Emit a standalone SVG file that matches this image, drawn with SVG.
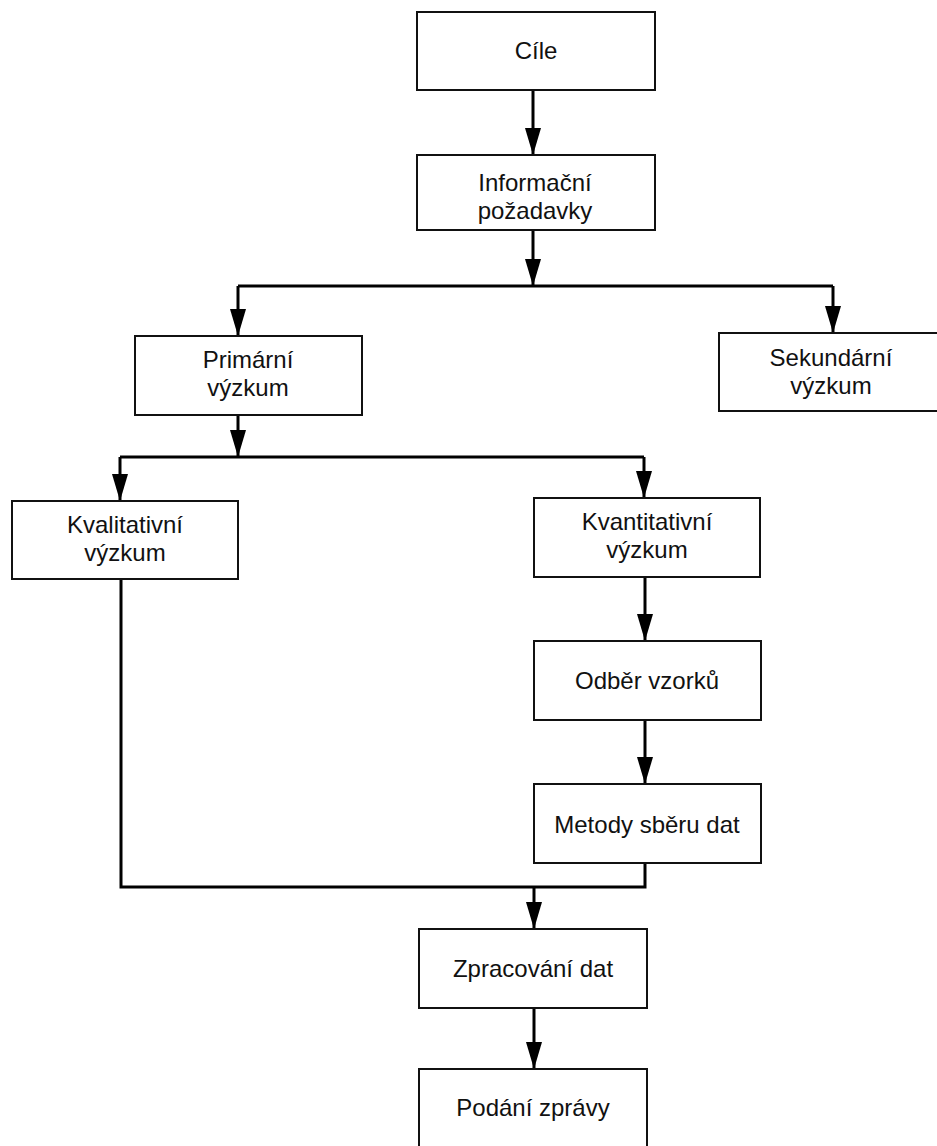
<svg xmlns="http://www.w3.org/2000/svg" width="937" height="1146" viewBox="0 0 937 1146">
<style>
.box{fill:#fff;stroke:#111;stroke-width:2}
.lbl{font-family:"Liberation Sans",Arial,sans-serif;font-size:24px;fill:#111;text-anchor:middle}
.con{fill:none;stroke:#000;stroke-width:3}
</style>
<defs>
<marker id="arr" viewBox="0 0 27 16" refX="27" refY="8" markerWidth="27" markerHeight="16" markerUnits="userSpaceOnUse" orient="auto">
<path d="M0,0 L27,8 L0,16 Z" fill="#000"/>
</marker>
</defs>
<rect width="937" height="1146" fill="#fff"/>
<g id="connectors">
<path class="con" d="M533,90 V155" marker-end="url(#arr)"/>
<path class="con" d="M533,230 V286" marker-end="url(#arr)"/>
<path class="con" d="M238,286 H833"/>
<path class="con" d="M238,286 V336" marker-end="url(#arr)"/>
<path class="con" d="M833,286 V333" marker-end="url(#arr)"/>
<path class="con" d="M238,415 V457" marker-end="url(#arr)"/>
<path class="con" d="M120,457 H644"/>
<path class="con" d="M120,457 V501" marker-end="url(#arr)"/>
<path class="con" d="M644,457 V498" marker-end="url(#arr)"/>
<path class="con" d="M645,577 V641" marker-end="url(#arr)"/>
<path class="con" d="M645,720 V784" marker-end="url(#arr)"/>
<path class="con" d="M121,579 V887 H645 V863"/>
<path class="con" d="M534,887 V929" marker-end="url(#arr)"/>
<path class="con" d="M534,1008 V1069" marker-end="url(#arr)"/>
</g>
<g id="cile">
<rect class="box" x="417" y="12" width="238" height="78"/>
<text class="lbl" x="536" y="59">Cíle</text>
</g>
<g id="informacni">
<rect class="box" x="417" y="155" width="238" height="75"/>
<text class="lbl" x="535" y="191">Informační</text>
<text class="lbl" x="535" y="219">požadavky</text>
</g>
<g id="primarni">
<rect class="box" x="135" y="336" width="227" height="79"/>
<text class="lbl" x="248" y="368">Primární</text>
<text class="lbl" x="248" y="396">výzkum</text>
</g>
<g id="sekundarni">
<rect class="box" x="719" y="333" width="222" height="78"/>
<text class="lbl" x="831" y="366">Sekundární</text>
<text class="lbl" x="831" y="394">výzkum</text>
</g>
<g id="kvalitativni">
<rect class="box" x="12" y="501" width="226" height="78"/>
<text class="lbl" x="125" y="533">Kvalitativní</text>
<text class="lbl" x="125" y="561">výzkum</text>
</g>
<g id="kvantitativni">
<rect class="box" x="534" y="498" width="226" height="79"/>
<text class="lbl" x="647" y="530">Kvantitativní</text>
<text class="lbl" x="647" y="558">výzkum</text>
</g>
<g id="odber">
<rect class="box" x="534" y="641" width="227" height="79"/>
<text class="lbl" x="647" y="689">Odběr vzorků</text>
</g>
<g id="metody">
<rect class="box" x="534" y="784" width="227" height="79"/>
<text class="lbl" x="647" y="833">Metody sběru dat</text>
</g>
<g id="zpracovani">
<rect class="box" x="419" y="929" width="228" height="79"/>
<text class="lbl" x="533" y="977">Zpracování dat</text>
</g>
<g id="podani">
<rect class="box" x="419" y="1069" width="228" height="82"/>
<text class="lbl" x="533" y="1116">Podání zprávy</text>
</g>
</svg>
